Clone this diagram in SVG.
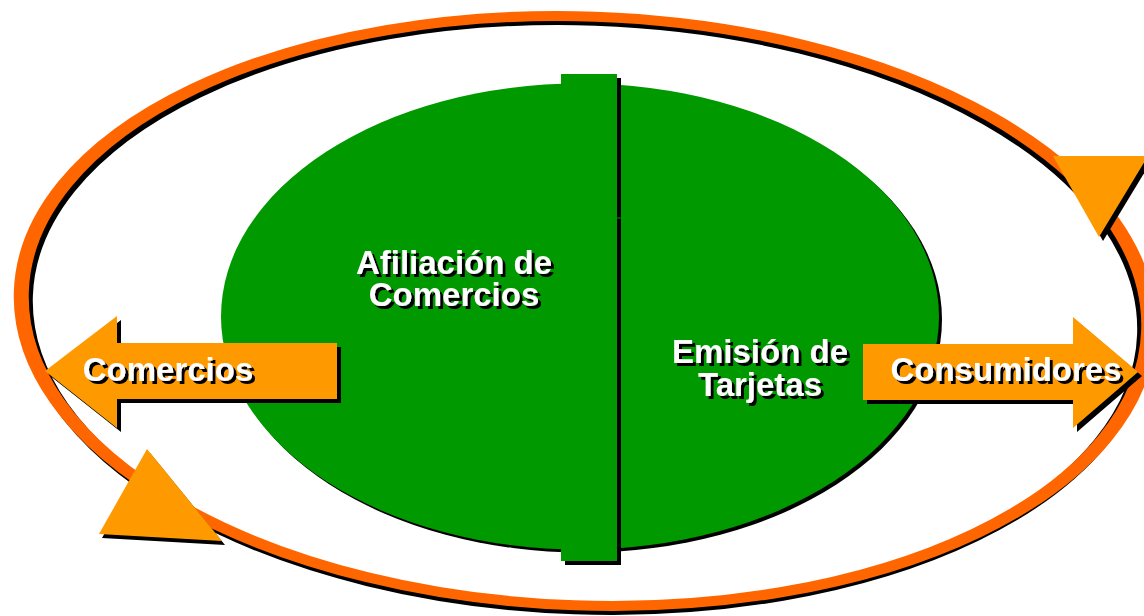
<svg xmlns="http://www.w3.org/2000/svg" width="1144" height="616" viewBox="0 0 1144 616">
<style>
.t{font-family:"Liberation Sans",Arial,Helvetica,sans-serif;font-weight:bold;font-size:33px;text-anchor:middle;fill:#ffffff;filter:url(#ts)}
.or{fill:#FF9900}
.sh{fill:#000000}
.gr{fill:#009900}
.ring{fill:none;stroke-width:10}
</style>
<defs>
<filter id="ts" x="-10%" y="-30%" width="120%" height="160%">
  <feDropShadow dx="3" dy="3" stdDeviation="0" flood-color="#000000" flood-opacity="1"/>
</filter>
<polygon id="larrow" points="45,371 117,316 117,343 337,343 337,399 117,399 117,428"/>
<polygon id="rarrow" points="863,344 1073,344 1073,317 1138,372 1073,428 1073,400 863,400"/>
<polygon id="tri1" points="1053,156 1148,156 1099,237"/>
<polygon id="tri2" points="147,449 99,534 222,541"/>
</defs>
<rect width="1144" height="616" fill="#ffffff"/>

<g id="connectors">
  <g transform="translate(585 315) rotate(2) scale(1.5 1)"><ellipse rx="373.3" ry="294.5" class="ring" stroke="#000000"/></g>
  <g transform="translate(585 311) rotate(2) scale(1.5 1)"><ellipse rx="376" ry="294.5" class="ring" stroke="#FF6600"/></g>
</g>

<g id="core">
  <ellipse cx="583" cy="319.5" rx="359" ry="233" class="sh"/>
  <ellipse cx="580" cy="316.5" rx="359" ry="233" class="gr"/>
  <rect x="565" y="78" width="56" height="487" class="sh"/>
  <rect x="561" y="74" width="56" height="487" class="gr"/>
  <rect x="617" y="217.5" width="4" height="1" class="gr"/>
</g>

<g id="afiliacion">
  <text class="t" x="454" y="274">Afiliación de<tspan x="454" dy="32">Comercios</tspan></text>
</g>

<g id="emision">
  <text class="t" x="760" y="363">Emisión de<tspan x="760" dy="33">Tarjetas</tspan></text>
</g>

<g id="comercios">
  <use href="#larrow" class="sh" transform="translate(4 4)"/>
  <use href="#larrow" class="or"/>
  <text class="t" x="168" y="381">Comercios</text>
</g>

<g id="consumidores">
  <use href="#rarrow" class="sh" transform="translate(4 4)"/>
  <use href="#rarrow" class="or"/>
  <text class="t" x="1006" y="381">Consumidores</text>
</g>

<g id="cycle-heads">
  <use href="#tri1" class="sh" transform="translate(4 4)"/>
  <use href="#tri1" class="or"/>
  <use href="#tri2" class="sh" transform="translate(3 4)"/>
  <use href="#tri2" class="or"/>
</g>
</svg>
